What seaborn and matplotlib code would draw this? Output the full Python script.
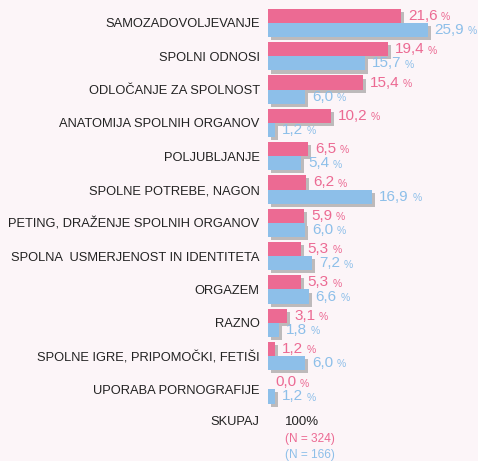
import pandas as pd
import matplotlib.pyplot as plt
import matplotlib.patheffects as pe
import seaborn as sns

# Data
categories = [
    "SAMOZADOVOLJEVANJE",
    "SPOLNI ODNOSI",
    "ODLOČANJE ZA SPOLNOST",
    "ANATOMIJA SPOLNIH ORGANOV",
    "POLJUBLJANJE",
    "SPOLNE POTREBE, NAGON",
    "PETING, DRAŽENJE SPOLNIH ORGANOV",
    "SPOLNA  USMERJENOST IN IDENTITETA",
    "ORGAZEM",
    "RAZNO",
    "SPOLNE IGRE, PRIPOMOČKI, FETIŠI",
    "UPORABA PORNOGRAFIJE",
]
pink_values = [21.6, 19.4, 15.4, 10.2, 6.5, 6.2, 5.9, 5.3, 5.3, 3.1, 1.2, 0.0]
blue_values = [25.9, 15.7, 6.0, 1.2, 5.4, 16.9, 6.0, 7.2, 6.6, 1.8, 6.0, 1.2]
groups = ["N = 324", "N = 166"]

pink = "#ec6a93"
blue = "#8dbfe9"
bg = "#fcf5f8"

df = pd.DataFrame({
    "kategorija": categories * 2,
    "delez": pink_values + blue_values,
    "skupina": [groups[0]] * len(categories) + [groups[1]] * len(categories),
})

sns.set_theme(style="white")
plt.rcParams["font.family"] = ["Liberation Sans", "DejaVu Sans"]

fig = plt.figure(figsize=(4.78, 4.61), dpi=100, facecolor=bg)
ax = fig.add_axes([268 / 478, 0, 207 / 478, 1])
ax.set_facecolor(bg)

sns.barplot(data=df, y="kategorija", x="delez", hue="skupina", order=categories,
            hue_order=groups, palette=[pink, blue], orient="h", width=0.85,
            saturation=1, legend=False, ax=ax)

shadow = [pe.SimplePatchShadow(offset=(2.2, -2.2), shadow_rgbFace="#808080", alpha=0.5), pe.Normal()]
for p in ax.patches:
    p.set_path_effects(shadow)
    p.set_edgecolor("none")

# Value labels: big number + small percent sign
for cont, vals, col in zip(ax.containers, [pink_values, blue_values], [pink, blue]):
    for bar, v in zip(cont, vals):
        y = bar.get_y() + bar.get_height() / 2
        num = ax.annotate(f"{v:.1f}".replace(".", ","), xy=(bar.get_width(), y),
                          xytext=(5, 0), textcoords="offset points",
                          va="center", ha="left", fontsize=11, color=col)
        ax.annotate("%", xy=(1, 0.05), xycoords=num, xytext=(2.5, 0),
                    textcoords="offset points", va="bottom", ha="left",
                    fontsize=7.5, color=col)

ax.set_xlim(0, 33.6)
ax.set_ylim(13.15, -0.69)
ax.set_xlabel("")
ax.set_ylabel("")
ax.set_xticks([])
ax.tick_params(axis="y", length=0, pad=6, labelsize=9.3, labelcolor="#222222")
sns.despine(ax=ax, left=True, bottom=True)

# Total row
trans = ax.get_yaxis_transform()
ax.annotate("SKUPAJ", xy=(0, 11.98), xycoords=trans, xytext=(-6, 0),
            textcoords="offset points", ha="right", va="center", fontsize=9.3, color="#222222")
ax.text(2.8, 11.98, "100%", ha="left", va="center", fontsize=9.5, color="#222222")
ax.text(2.8, 12.5, f"({groups[0]})", ha="left", va="center", fontsize=8.6, color=pink)
ax.text(2.8, 12.96, f"({groups[1]})", ha="left", va="center", fontsize=8.6, color=blue)

plt.savefig("out.png", dpi=100, facecolor=bg)
